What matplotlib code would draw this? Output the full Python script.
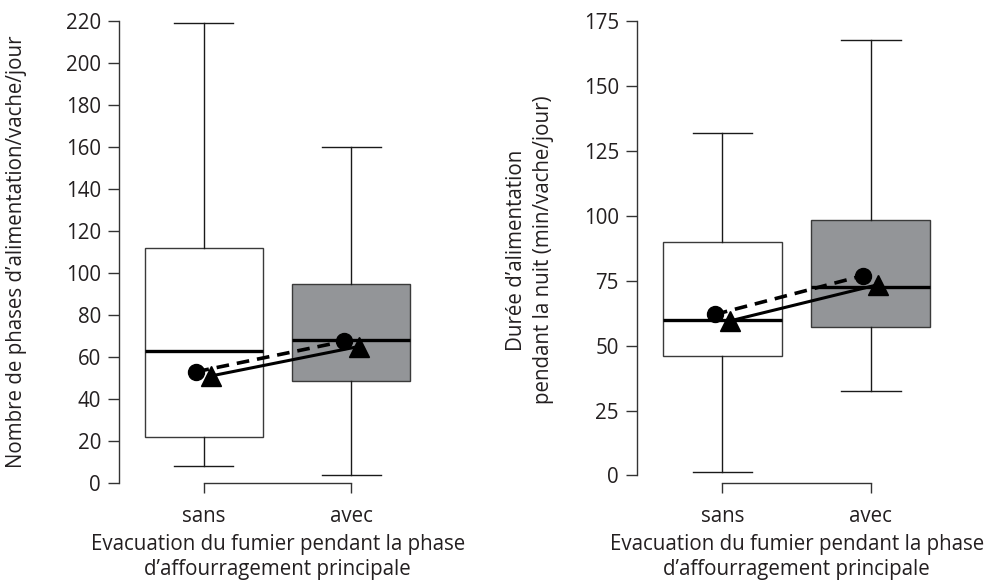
import matplotlib
matplotlib.use('Agg')
import matplotlib.pyplot as plt
from matplotlib.transforms import blended_transform_factory

plt.rcParams['font.family'] = ['Open Sans', 'DejaVu Sans']
plt.rcParams['font.size'] = 14.8

# Data
groups = ['sans', 'avec']
xlabel = "Evacuation du fumier pendant la phase\nd\u2019affourragement principale"

# left panel: number of feeding phases
phases_whislo = [8, 4]
phases_q1 = [22, 48.5]
phases_med = [63, 68]
phases_q3 = [112, 95]
phases_whishi = [219, 160]
phases_circle = [53, 67.5]
phases_triangle = [51, 65]

# right panel: feeding duration at night
duree_whislo = [1.5, 32.5]
duree_q1 = [46, 57]
duree_med = [60, 72.5]
duree_q3 = [90, 98.5]
duree_whishi = [132, 167.5]
duree_circle = [62, 77]
duree_triangle = [59.5, 73.5]

box_colors = ['white', '#939598']

W, H = 1001, 580
fig = plt.figure(figsize=(W / 100, H / 100), dpi=100)

ax1 = fig.add_axes([119 / W, 1 - 483 / H, (440 - 119) / W, (483 - 21) / H])
ax2 = fig.add_axes([637 / W, 1 - 483 / H, (960 - 637) / W, (483 - 21) / H])


def draw_panel(ax, whislo, q1, med, q3, whishi, circ, tri, ylim, yticks):
    stats = []
    for i in range(len(groups)):
        stats.append({'whislo': whislo[i], 'q1': q1[i], 'med': med[i],
                      'q3': q3[i], 'whishi': whishi[i], 'fliers': []})
    pos = [1, 2]
    bp = ax.bxp(stats, positions=pos, widths=0.8, patch_artist=True,
                showfliers=False,
                boxprops=dict(edgecolor='#3a3a3a', linewidth=1.0),
                whiskerprops=dict(color='#1a1a1a', linewidth=1.0),
                capprops=dict(color='#1a1a1a', linewidth=1.0),
                medianprops=dict(color='black', linewidth=2.4))
    for patch, c in zip(bp['boxes'], box_colors):
        patch.set_facecolor(c)
    for art in bp['caps'] + bp['whiskers']:
        art.set_clip_on(False)

    xc = [p - 0.05 for p in pos]
    xt = [p + 0.05 for p in pos]
    ax.plot(xc, circ, color='black', linewidth=2.6, linestyle=(0, (3.5, 2.2)),
            zorder=4)
    ax.plot(xt, tri, color='black', linewidth=2.2, zorder=4)
    ax.plot(xc, circ, 'o', color='black', markersize=11.5, zorder=5, clip_on=False)
    ax.plot(xt, tri, '^', color='black', markersize=14, zorder=5, clip_on=False)

    ax.set_ylim(*ylim)
    ax.set_xlim(1 - 0.575, 2.6)
    ax.set_yticks(yticks)
    ax.set_xticks(pos)
    ax.set_xticklabels(groups)

    for s in ['top', 'right']:
        ax.spines[s].set_visible(False)
    ax.spines['left'].set_bounds(yticks[0], yticks[-1])
    ax.spines['bottom'].set_bounds(1, 2)
    for s in ['left', 'bottom']:
        ax.spines[s].set_color('#333333')
        ax.spines[s].set_linewidth(1.0)
    ax.tick_params(axis='y', direction='out', length=8, width=1.0,
                   color='#333333', pad=5, labelcolor='#231f20')
    ax.tick_params(axis='x', direction='out', length=7.5, width=1.0,
                   color='#333333', pad=9, labelcolor='#231f20')

    tr = blended_transform_factory(ax.transData, fig.transFigure)
    ax.text(1.5, 1 - 557 / H, xlabel, transform=tr, ha='center', va='center',
            linespacing=1.3, color='#231f20')


draw_panel(ax1, phases_whislo, phases_q1, phases_med, phases_q3, phases_whishi,
           phases_circle, phases_triangle, (0, 220), list(range(0, 221, 20)))
draw_panel(ax2, duree_whislo, duree_q1, duree_med, duree_q3, duree_whishi,
           duree_circle, duree_triangle, (-2.9, 175), list(range(0, 176, 25)))

fig.text(17 / W, 1 - 252 / H, "Nombre de phases d\u2019alimentation/vache/jour",
         rotation=90, ha='center', va='center', color='#231f20')
fig.text(530 / W, 1 - 250 / H,
         "Dur\u00e9e d\u2019alimentation\npendant la nuit (min/vache/jour)",
         rotation=90, ha='center', va='center', linespacing=1.4,
         color='#231f20')

fig.savefig('out.png', dpi=100)
